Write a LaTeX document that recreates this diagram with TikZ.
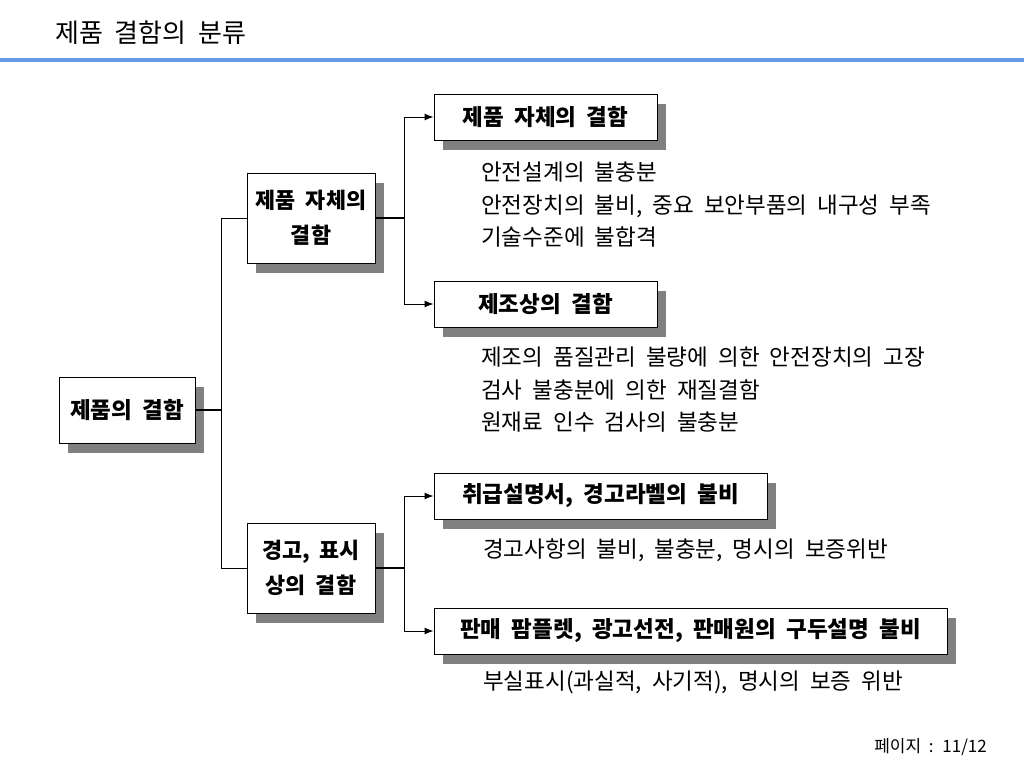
\documentclass[tikz,border=0pt]{standalone}
\usepackage{fontspec}
\setmainfont{Noto Sans CJK KR}[WordSpace=2.0]
\usetikzlibrary{arrows.meta,shadows}
\definecolor{rulebl}{RGB}{102,153,230}
\definecolor{shadegray}{RGB}{128,128,128}

\begin{document}
\begin{tikzpicture}[x=1pt,y=-1pt,
    box/.style={draw,line width=1pt,fill=white,inner sep=0pt,align=center,
      font=\bfseries\fontsize{22.5}{35}\selectfont,
      drop shadow={shadow xshift=9pt,shadow yshift=-10pt,fill=shadegray,opacity=1}},
    note/.style={anchor=west,align=left,inner sep=0pt,
      font=\fontsize{22.5}{32.5}\selectfont},
    link/.style={line width=1pt},
    stub/.style={line width=1.6pt},
    branch/.style={line width=1pt,-{Latex[length=9pt,width=7pt]}}]

      \fill[white] (0,0) rectangle (1024,768);
      \useasboundingbox (0,0) rectangle (1024,768);

      % title and rule
      \node[anchor=west,inner sep=0pt,font=\fontsize{26}{26}\selectfont] (title) at (55,33) {제품 결함의 분류};
      \draw[rulebl,line width=3pt] (0,60) -- (1024,60);

      \begin{scope}[every node/.style={box}]
        \node[minimum width=136pt,minimum height=66pt] (root) at (127,410) {제품의 결함};
        \node[minimum width=128pt,minimum height=90pt,font=\bfseries\fontsize{21.8}{35}\selectfont] (mid1) at (311,218) {제품 자체의\\결함};
        \node[minimum width=128pt,minimum height=90pt,font=\bfseries\fontsize{21.8}{35}\selectfont] (mid2) at (311,568) {경고, 표시\\상의 결함};
        \node[minimum width=223pt,minimum height=46pt] (r1) at (545.5,117) {제품 자체의 결함};
        \node[minimum width=223pt,minimum height=46pt] (r2) at (545.5,304) {제조상의 결함};
        \node[minimum width=333pt,minimum height=46pt] (r3) at (600.5,496) {취급설명서, 경고라벨의 불비};
        \node[minimum width=513pt,minimum height=46pt] (r4) at (690.5,631) {판매 팜플렛, 광고선전, 판매원의 구두설명 불비};
      \end{scope}

      \coordinate (j0) at (221,410);
      \coordinate (j1) at (404,218);
      \coordinate (j2) at (404,568);

      \draw[stub] (root.east) -- (j0);
      \draw[link] (j0) |- (mid1.west);
      \draw[link] (j0) |- (mid2.west);

      \draw[stub] (mid1.east) -- (j1);
      \draw[branch] (j1) |- (r1.west);
      \draw[branch] (j1) |- (r2.west);

      \draw[stub] (mid2.east) -- (j2);
      \draw[branch] (j2) |- (r3.west);
      \draw[branch] (j2) |- (r4.west);

      % details
      \begin{scope}[every node/.style={note}]
        \node (n1) at (481,205) {안전설계의 불충분\\안전장치의 불비, 중요 보안부품의 내구성 부족\\기술수준에 불합격};
        \node (n2) at (481,390) {제조의 품질관리 불량에 의한 안전장치의 고장\\검사 불충분에 의한 재질결함\\원재료 인수 검사의 불충분};
        \node (n3) at (483,550) {경고사항의 불비, 불충분, 명시의 보증위반};
        \node (n4) at (483,682) {부실표시(과실적, 사기적), 명시의 보증 위반};
      \end{scope}

      \node[anchor=east,inner sep=0pt,font=\fontsize{17}{17}\selectfont] (page) at (987,747) {페이지 : 11/12};

    \end{tikzpicture}
\end{document}
